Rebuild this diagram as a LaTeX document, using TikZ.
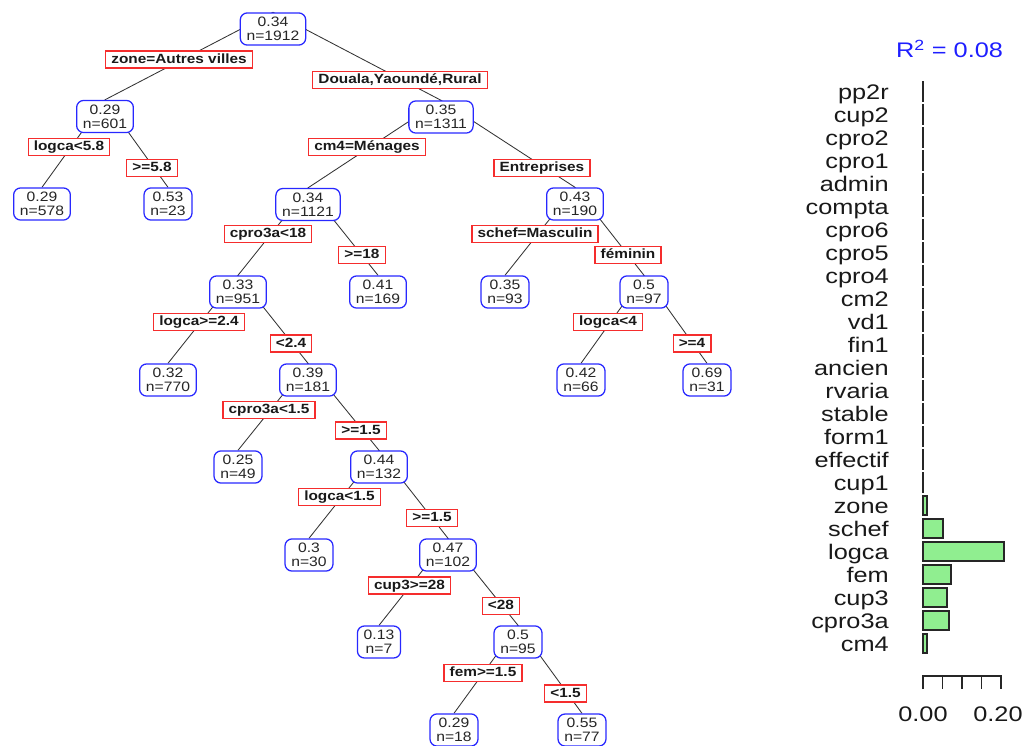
\documentclass[tikz,border=0pt]{standalone}
\usepackage{fontspec}
\setmainfont{Liberation Sans}
\newfontfamily\treefont{Liberation Sans}[FakeStretch=1.15]
\newfontfamily\panelfont{Liberation Sans}[FakeStretch=1.2]
\usetikzlibrary{backgrounds}
\definecolor{cnode}{RGB}{40,40,255}
\definecolor{csplit}{RGB}{245,45,45}
\definecolor{ctitle}{RGB}{30,30,255}
\definecolor{cbar}{RGB}{144,238,144}
\begin{document}
\begin{tikzpicture}[
  x=0.025cm, y=-0.025cm,
  statbox/.style  = {rectangle, rounded corners=5pt, draw=cnode, line width=0.9pt,
                     fill=white, align=center, text=black!85, inner xsep=4.5pt,
                     inner ysep=3pt, font=\treefont\fontsize{9.7}{10}\selectfont},
  splitlbl/.style = {rectangle, draw=csplit, line width=0.9pt, fill=white,
                     text=black!90, text height=7pt, text depth=2pt,
                     inner xsep=4pt, inner ysep=1.5pt,
                     font=\treefont\bfseries\fontsize{9.5}{10}\selectfont},
  branch/.style   = {draw=black!80, line width=0.6pt},
  varlbl/.style   = {anchor=east, inner sep=0pt, text height=11pt, text depth=0pt,
                     text=black!90, font=\panelfont\fontsize{15}{16}\selectfont},
  impbar/.style   = {draw=black!85, fill=cbar, line width=0.8pt},
  axisline/.style = {draw=black!85, line width=0.8pt},
]
\useasboundingbox (0,0) rectangle (1028,745);
\node[statbox] (n1)  at (273,29)    {0.34\\n=1912};
\node[statbox] (n2)  at (105,116.5) {0.29\\n=601};
\node[statbox] (n3)  at (441,117)   {0.35\\n=1311};
\node[statbox] (n4)  at (42,204)    {0.29\\n=578};
\node[statbox] (n5)  at (168,204)   {0.53\\n=23};
\node[statbox] (n6)  at (308,204.5) {0.34\\n=1121};
\node[statbox] (n7)  at (575,204)   {0.43\\n=190};
\node[statbox] (n8)  at (238,292)   {0.33\\n=951};
\node[statbox] (n9)  at (378,292)   {0.41\\n=169};
\node[statbox] (n10) at (505,292)   {0.35\\n=93};
\node[statbox] (n11) at (644,292)   {0.5\\n=97};
\node[statbox] (n12) at (168,380)   {0.32\\n=770};
\node[statbox] (n13) at (308,380)   {0.39\\n=181};
\node[statbox] (n14) at (581,380)   {0.42\\n=66};
\node[statbox] (n15) at (707,380)   {0.69\\n=31};
\node[statbox] (n16) at (238,467)   {0.25\\n=49};
\node[statbox] (n17) at (379,467)   {0.44\\n=132};
\node[statbox] (n18) at (309,555)   {0.3\\n=30};
\node[statbox] (n19) at (448,555)   {0.47\\n=102};
\node[statbox] (n20) at (379,642)   {0.13\\n=7};
\node[statbox] (n21) at (518,642)   {0.5\\n=95};
\node[statbox] (n22) at (454,730)   {0.29\\n=18};
\node[statbox] (n23) at (582,730)   {0.55\\n=77};
\node[splitlbl] (s1)  at (179,59.5)  {zone=Autres villes};
\node[splitlbl] (s2)  at (400,80)    {Douala,Yaoundé,Rural};
\node[splitlbl] (s3)  at (69,147)    {logca<5.8};
\node[splitlbl] (s4)  at (152,168)   {>=5.8};
\node[splitlbl] (s5)  at (367,147)   {cm4=Ménages};
\node[splitlbl] (s6)  at (542,168)   {Entreprises};
\node[splitlbl] (s7)  at (268,234)   {cpro3a<18};
\node[splitlbl] (s8)  at (362,255)   {>=18};
\node[splitlbl] (s9)  at (535,234)   {schef=Masculin};
\node[splitlbl] (s10) at (628,255)   {féminin};
\node[splitlbl] (s11) at (199,322)   {logca>=2.4};
\node[splitlbl] (s12) at (291,343.5) {<2.4};
\node[splitlbl] (s13) at (608,322)   {logca<4};
\node[splitlbl] (s14) at (692,343.5) {>=4};
\node[splitlbl] (s15) at (269,410)   {cpro3a<1.5};
\node[splitlbl] (s16) at (361,430.5) {>=1.5};
\node[splitlbl] (s17) at (339.5,497) {logca<1.5};
\node[splitlbl] (s18) at (432,518)   {>=1.5};
\node[splitlbl] (s19) at (409.5,585.5) {cup3>=28};
\node[splitlbl] (s20) at (501,606)   {<28};
\node[splitlbl] (s21) at (483,673)   {fem>=1.5};
\node[splitlbl] (s22) at (565.5,693.5) {<1.5};
\begin{pgfonlayer}{background}
  \fill[white] (0,0) rectangle (1028,745);
  \draw[branch] (n1.north)  -- (n2.north);
  \draw[branch] (n1.north)  -- (n3.north);
  \draw[branch] (n2.north)  -- (n4.north);
  \draw[branch] (n2.north)  -- (n5.north);
  \draw[branch] (n3.north)  -- (n6.north);
  \draw[branch] (n3.north)  -- (n7.north);
  \draw[branch] (n6.north)  -- (n8.north);
  \draw[branch] (n6.north)  -- (n9.north);
  \draw[branch] (n7.north)  -- (n10.north);
  \draw[branch] (n7.north)  -- (n11.north);
  \draw[branch] (n8.north)  -- (n12.north);
  \draw[branch] (n8.north)  -- (n13.north);
  \draw[branch] (n11.north) -- (n14.north);
  \draw[branch] (n11.north) -- (n15.north);
  \draw[branch] (n13.north) -- (n16.north);
  \draw[branch] (n13.north) -- (n17.north);
  \draw[branch] (n17.north) -- (n18.north);
  \draw[branch] (n17.north) -- (n19.north);
  \draw[branch] (n19.north) -- (n20.north);
  \draw[branch] (n19.north) -- (n21.north);
  \draw[branch] (n21.north) -- (n22.north);
  \draw[branch] (n21.north) -- (n23.north);
\end{pgfonlayer}
\node[text=ctitle, font=\panelfont\fontsize{15}{16}\selectfont] (r2) at (949.5,49)
  {R\textsuperscript{2} = 0.08};
\foreach \nm [count=\i from 0] in {pp2r,cup2,cpro2,cpro1,admin,compta,cpro6,cpro5,
    cpro4,cm2,vd1,fin1,ancien,rvaria,stable,form1,effectif,cup1,zone,schef,logca,
    fem,cup3,cpro3a,cm4}
  \node[varlbl] (v\i) at (889,{91.5+23*\i}) {\nm};
\foreach \i/\w in {0/0.5,1/0.5,2/0.5,3/0.5,4/0.5,5/0.5,6/0.5,7/0.5,8/0.5,9/0.5,
    10/0.5,11/0.5,12/0.5,13/0.5,14/0.5,15/0.5,16/0.5,17/0.5,
    18/4,19/20,20/81,21/28,22/24,23/26,24/4}
  \draw[impbar] (923,{82+23*\i}) rectangle ++(\w,19);
\draw[axisline] (923,689) -- (923,676) -- (1001,676) -- (1001,689);
\foreach \t in {942.5,962,981.5}
  \draw[axisline] (\t,676) -- (\t,689);
\node[font=\panelfont\fontsize{15}{16}\selectfont, text=black!90] (t0)  at (923,714) {0.00};
\node[font=\panelfont\fontsize{15}{16}\selectfont, text=black!90] (t20) at (998,714) {0.20};
\end{tikzpicture}
\end{document}
